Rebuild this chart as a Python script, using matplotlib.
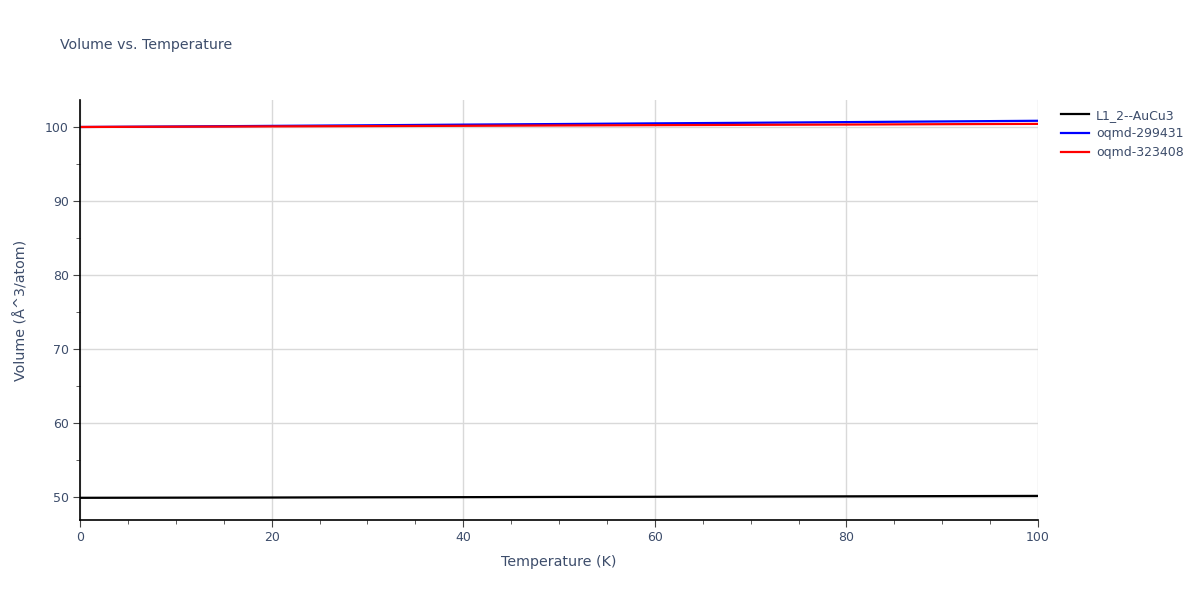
import matplotlib.pyplot as plt
from matplotlib.ticker import MultipleLocator

temperatura = [0, 10, 20, 30, 40, 50, 60, 70, 80, 90, 100]
vol_aucu3 = [49.90, 49.92, 49.94, 49.97, 49.99, 50.02, 50.04, 50.07, 50.10, 50.13, 50.16]
vol_299431 = [100.05, 100.12, 100.20, 100.28, 100.37, 100.45, 100.54, 100.62, 100.71, 100.80, 100.89]
vol_323408 = [100.05, 100.09, 100.13, 100.17, 100.21, 100.26, 100.30, 100.34, 100.38, 100.43, 100.47]
nomes = ['L1_2--AuCu3', 'oqmd-299431', 'oqmd-323408']
cores = ['black', 'blue', 'red']

corTexto = '#3d4d6b'

fig = plt.figure(figsize=(12, 6), dpi=100)
ax = fig.add_axes([80 / 1200, 80 / 600, 958 / 1200, 420 / 600])

for serie, nome, cor in zip([vol_aucu3, vol_299431, vol_323408], nomes, cores):
    ax.plot(temperatura, serie, color=cor, linewidth=1.6, label=nome)

ax.set_xlim(0, 100)
ax.set_ylim(46.9, 103.7)
ax.xaxis.set_major_locator(MultipleLocator(20))
ax.xaxis.set_minor_locator(MultipleLocator(5))
ax.yaxis.set_major_locator(MultipleLocator(10))
ax.yaxis.set_minor_locator(MultipleLocator(5))
ax.grid(True, which='major', color='#d9d9d9', linewidth=1)
ax.set_axisbelow(True)

for lado in ['top', 'right']:
    ax.spines[lado].set_visible(False)
for lado in ['left', 'bottom']:
    ax.spines[lado].set_color('black')
    ax.spines[lado].set_linewidth(1.2)

ax.tick_params(which='major', length=5, color='#444444', labelsize=9, labelcolor=corTexto, pad=3)
ax.tick_params(which='minor', length=3, color='#444444')

ax.set_xlabel('Temperature (K)', fontsize=10.3, color=corTexto, labelpad=8)
ax.set_ylabel('Volume (Å^3/atom)', fontsize=10.3, color=corTexto, labelpad=12)
fig.text(60 / 1200, 1 - 45 / 600, 'Volume vs. Temperature', fontsize=10.2, color=corTexto, va='center')

leg = ax.legend(loc='upper left', bbox_to_anchor=(1.015, 1.0), frameon=False, fontsize=9,
                handlelength=2.2, labelspacing=0.45, borderaxespad=0.3, handletextpad=0.6)
for t in leg.get_texts():
    t.set_color(corTexto)

fig.savefig('out.png', dpi=100)
